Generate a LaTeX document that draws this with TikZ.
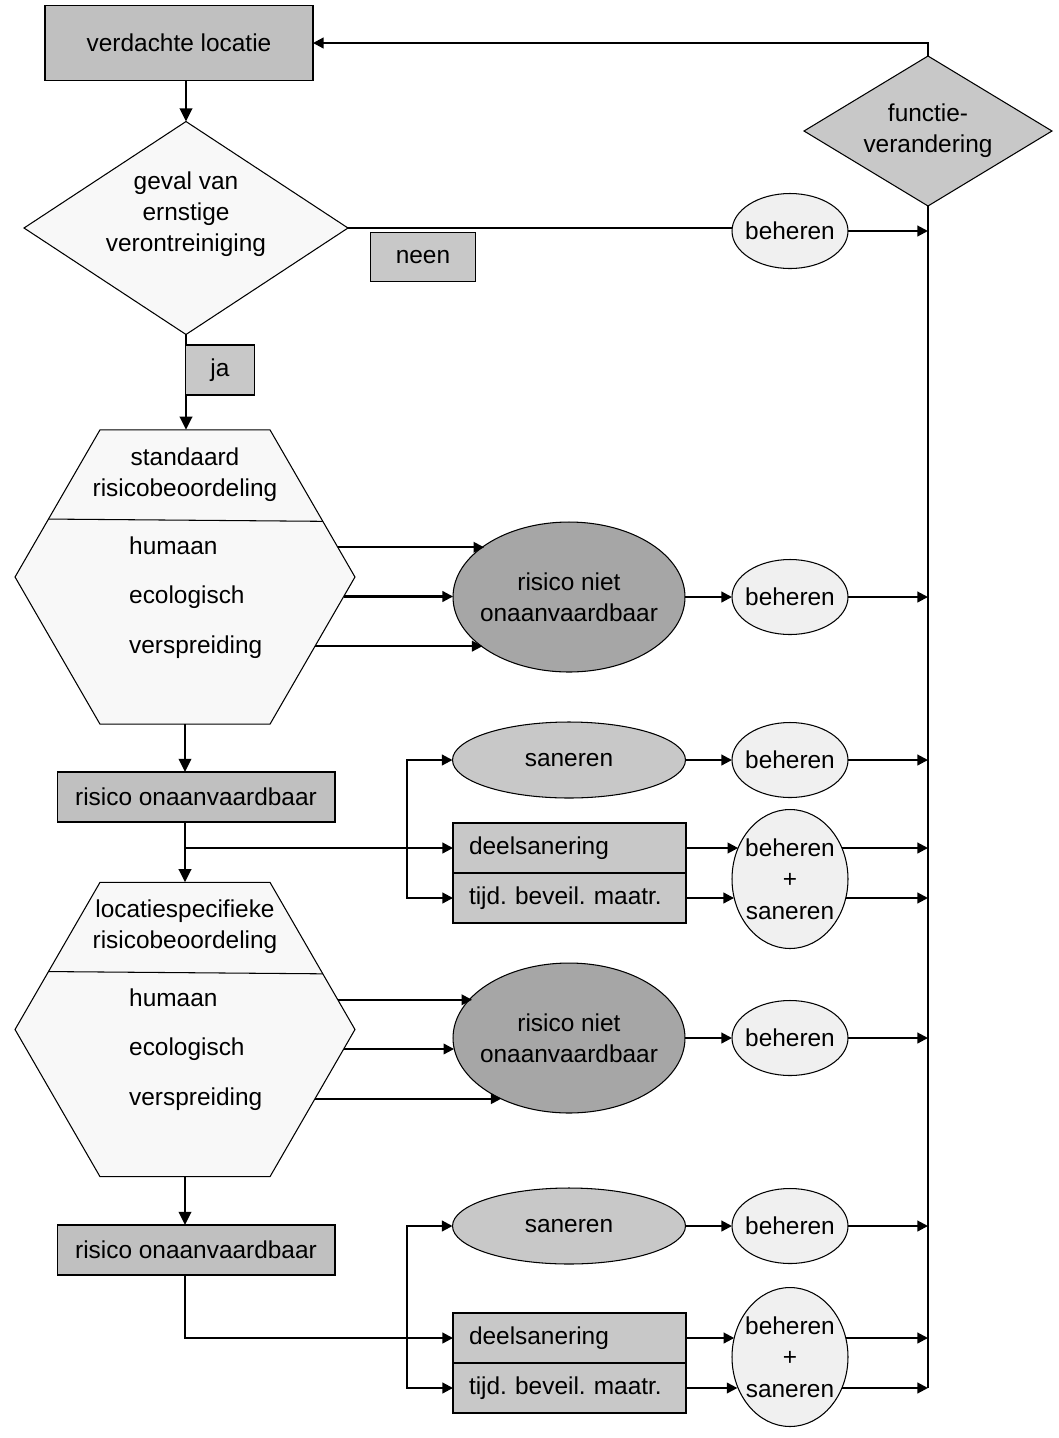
\documentclass[tikz,border=0pt]{standalone}
\usepackage{fontspec}
\setmainfont{Liberation Sans}
\usepackage{tikz}
\usetikzlibrary{arrows.meta,calc,positioning,shapes.geometric}
\definecolor{boxCol}{HTML}{C0C0C0}
\definecolor{tagCol}{HTML}{C8C8C8}
\definecolor{paleCol}{HTML}{F8F8F8}
\definecolor{behCol}{HTML}{F0F0F0}
\definecolor{riskCol}{HTML}{A6A6A6}
\newcommand{\figfont}{\fontsize{13.9}{17.8}\selectfont\frenchspacing}

\begin{document}
\begin{tikzpicture}[x=0.02cm,y=-0.02cm,every node/.style={font=\figfont}]
  \tikzset{bx/.style={draw,fill=#1,line width=0.6pt,inner sep=0pt,outer sep=0pt},
    rbox/.style={bx=#1,rectangle},
    ell/.style={bx=#1,ellipse,inner xsep=-0.4cm,align=center},
    dia/.style={bx=#1,diamond,align=center},
    hex/.style={bx=paleCol,regular polygon,regular polygon sides=6,minimum size=6.8cm},
    lst/.style={draw,fill=tagCol,line width=0.6pt,outer sep=0pt,inner xsep=0.32cm,
        text width=4.02cm,align=left,minimum height=1cm},
    arr/.style={-{Triangle[length=6pt,width=6pt]},line width=1.2pt},
    flow/.style={-{Triangle[length=7.5pt,width=7pt]},line width=1.6pt},
    ln/.style={line width=1.2pt}}
  \useasboundingbox (0,0) rectangle (1059,1438);

  % top: suspected site and first test
  \node[rbox=boxCol,minimum width=5.36cm,minimum height=1.5cm] (loc) at (179,43) {verdachte locatie};
  \node[dia=paleCol,minimum width=6.48cm,minimum height=4.26cm] (geval) at (186,228) {};
  \node[align=center] (gevalT) at (186,214) {geval van\\ernstige\\verontreiniging};
  \node[ell=behCol,minimum width=2.32cm,minimum height=1.5cm] (beh0) at (790,231) {beheren};
  \node[dia=tagCol,aspect=1.65,minimum width=4.96cm,minimum height=3cm] (fv) at (928,131) {functie-\\verandering};

  % standard risk assessment
  \node[hex] (h1) at (185,577) {};
  \draw[line width=0.6pt] (h1.157.4) -- (h1.22.6);
  \node[align=center] (std1) at (185,475) {standaard\\risicobeoordeling};
  \node[anchor=west] (hum1) at (123,546) {humaan};
  \node[anchor=west] (eco1) at (123,597) {ecologisch};
  \node[anchor=west] (ver1) at (123,647) {verspreiding};
  \node[ell=riskCol,minimum width=4.64cm,minimum height=3cm] (e1) at (569,597) {risico niet\\onaanvaardbaar};
  \node[ell=behCol,minimum width=2.32cm,minimum height=1.5cm] (beh1) at (790,597) {beheren};
  \node[rbox=boxCol,minimum width=5.56cm,minimum height=1cm] (ro1) at (196,797) {risico onaanvaardbaar};

  \node[ell=tagCol,minimum width=4.66cm,minimum height=1.52cm] (san1) at (569,760) {saneren};
  \node[ell=behCol,minimum width=2.32cm,minimum height=1.5cm] (beh2) at (790,760) {beheren};
  \node[lst] (deel1) at (569.5,848) {deelsanering};
  \node[lst,below=0pt of deel1] (tijd1) {tijd. beveil. maatr.};
  \node[ell=behCol,minimum width=2.32cm,minimum height=2.78cm] (bs1) at (790,879) {beheren\\+\\saneren};

  % site specific risk assessment
  \node[hex] (h2) at (185,1029.5) {};
  \draw[line width=0.6pt] (h2.157.4) -- (h2.22.6);
  \node[align=center] (std2) at (185,927) {locatiespecifieke\\risicobeoordeling};
  \node[anchor=west] (hum2) at (123,998) {humaan};
  \node[anchor=west] (eco2) at (123,1049) {ecologisch};
  \node[anchor=west] (ver2) at (123,1099) {verspreiding};
  \node[ell=riskCol,minimum width=4.64cm,minimum height=3cm] (e2) at (569,1038) {risico niet\\onaanvaardbaar};
  \node[ell=behCol,minimum width=2.32cm,minimum height=1.5cm] (beh3) at (790,1038) {beheren};
  \node[rbox=boxCol,minimum width=5.56cm,minimum height=1cm] (ro2) at (196,1250) {risico onaanvaardbaar};

  \node[ell=tagCol,minimum width=4.66cm,minimum height=1.52cm] (san2) at (569,1226) {saneren};
  \node[ell=behCol,minimum width=2.32cm,minimum height=1.5cm] (beh4) at (790,1226) {beheren};
  \node[lst] (deel2) at (569.5,1338) {deelsanering};
  \node[lst,below=0pt of deel2] (tijd2) {tijd. beveil. maatr.};
  \node[ell=behCol,minimum width=2.32cm,minimum height=2.78cm] (bs2) at (790,1357) {beheren\\+\\saneren};

  % connectors
  \draw[flow] (loc.south -| geval.north) -- (geval.north);
  \draw[flow] (geval.south) -- (geval.south |- h1.north);
  \draw[ln] (geval.east) -- (geval.east -| beh0.west);
  \draw[arr] (beh0.east) -- (beh0.east -| fv.south);
  \draw[ln] (fv.south) -- (fv.south |- tijd2.east);
  \draw[arr] (fv.north) |- (loc.east);
  \node[rbox=tagCol,minimum width=1.38cm,minimum height=1.0cm] (ja) at (220,370) {ja};
  \node[rbox=tagCol,minimum width=2.1cm,minimum height=0.98cm] (neen) at (423,257) {neen};

  \draw[arr] (h1.11.5) -- (h1.11.5 -| e1.149.1);
  \draw[arr] (h1.-7.2) -- (h1.-7.2 -| e1.west);
  \draw[arr] (h1.-28.4) -- (h1.-28.4 -| e1.210);
  \draw[arr] (e1.east) -- (beh1.west);
  \draw[arr] (beh1.east) -- (beh1.east -| fv.south);
  \draw[flow] (h1.south) -- (h1.south |- ro1.north);

  \draw[flow] (ro1.south -| h2.north) -- (h2.north);
  \draw[arr] (h2.north |- deel1.west) -- (deel1.west);
  \coordinate (sp1) at (407,848);
  \draw[arr] (sp1) |- (san1.west);
  \draw[arr] (sp1) |- (tijd1.west);
  \draw[arr] (san1.east) -- (beh2.west);
  \draw[arr] (beh2.east) -- (beh2.east -| fv.south);
  \draw[arr] (deel1.east) -- (deel1.east -| bs1.149.1);
  \draw[arr] (tijd1.east) -- (tijd1.east -| bs1.198.3);
  \draw[arr] (bs1.30.9 |- deel1.east) -- (deel1.east -| fv.south);
  \draw[arr] (bs1.-18.3 |- tijd1.east) -- (tijd1.east -| fv.south);

  \draw[arr] (h2.11.5) -- (h2.11.5 -| e2.157.8);
  \draw[arr] (h2.-7.1) -- (h2.-7.1 -| e2.185.5);
  \draw[arr] (h2.-28.2) -- (h2.-28.2 -| e2.222.1);
  \draw[arr] (e2.east) -- (beh3.west);
  \draw[arr] (beh3.east) -- (beh3.east -| fv.south);
  \draw[flow] (h2.south) -- (h2.south |- ro2.north);

  \draw[arr] (ro2.south -| h2.south) |- (deel2.west);
  \coordinate (sp2) at (407,1338);
  \draw[arr] (sp2) |- (san2.west);
  \draw[arr] (sp2) |- (tijd2.west);
  \draw[arr] (san2.east) -- (beh4.west);
  \draw[arr] (beh4.east) -- (beh4.east -| fv.south);
  \draw[arr] (deel2.east) -- (deel2.east -| bs2.161.2);
  \draw[arr] (tijd2.east) -- (tijd2.east -| bs2.209.7);
  \draw[arr] (bs2.18.8 |- deel2.east) -- (deel2.east -| fv.south);
  \draw[arr] (bs2.-30.3 |- tijd2.east) -- (tijd2.east -| fv.south);
\end{tikzpicture}
\end{document}
